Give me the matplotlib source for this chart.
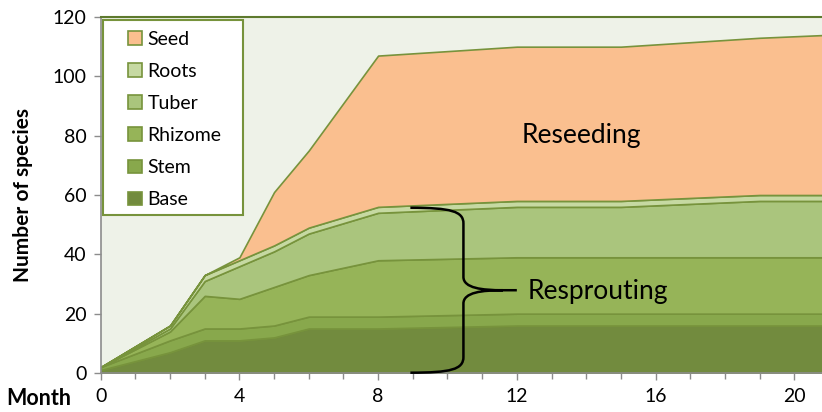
import matplotlib.pyplot as plt
import numpy as np
from matplotlib.path import Path
from matplotlib.patches import PathPatch, Patch, Rectangle
from matplotlib.ticker import MultipleLocator

plt.rcParams['font.family'] = ['Lato', 'DejaVu Sans']

# data: number of species per regeneration type (stacked increments)
months = [0, 2, 3, 4, 5, 6, 8, 12, 15, 19, 21]
base = [1, 7, 11, 11, 12, 15, 15, 16, 16, 16, 16]
stem = [1, 4, 4, 4, 4, 4, 4, 4, 4, 4, 4]
rhizome = [0, 3, 11, 10, 13, 14, 19, 19, 19, 19, 19]
tuber = [0, 1, 5, 11, 12, 14, 16, 17, 17, 19, 19]
roots = [0, 1, 2, 2, 2, 2, 2, 2, 2, 2, 2]
seed = [0, 0, 0, 1, 18, 26, 51, 52, 52, 53, 54]

labels = ['Base', 'Stem', 'Rhizome', 'Tuber', 'Roots', 'Seed']
colors = ['#728B3E', '#88A84C', '#96B458', '#AAC57D', '#C6D9A2', '#FABF8F']
edge = '#77933C'
fs = 14

fig = plt.figure(figsize=(8.22, 4.12), dpi=100)
ax = fig.add_axes([0.1225, 0.0947, 0.8775, 0.864])
ax.set_facecolor('#EEF2E8')

ax.stackplot(months, base, stem, rhizome, tuber, roots, seed,
             colors=colors, edgecolor=edge, linewidth=1.2)

ax.set_xlim(0, 20.8)
ax.set_ylim(0, 120)
ax.xaxis.set_major_locator(MultipleLocator(4))
ax.xaxis.set_minor_locator(MultipleLocator(1))
ax.yaxis.set_major_locator(MultipleLocator(20))

for s in ['left', 'bottom']:
    ax.spines[s].set_color('#8C8C8C')
    ax.spines[s].set_linewidth(1.2)
ax.spines['top'].set_color('#5E7A2E')
ax.spines['top'].set_linewidth(1.5)
ax.spines['right'].set_visible(False)

ax.tick_params(axis='both', which='both', direction='out', color='#8C8C8C',
               labelsize=fs, width=1)
ax.tick_params(axis='x', which='major', length=5, pad=6)
ax.tick_params(axis='x', which='minor', length=4)
ax.tick_params(axis='y', which='major', length=5, pad=5)

ax.set_ylabel('Number of species', fontsize=15, fontweight='bold', labelpad=14)
fig.text(0.008, 0.033, 'Month', fontsize=15.5, fontweight='bold', va='center')

# legend box drawn separately, entries top to bottom: Seed ... Base
ax.add_patch(Rectangle((0.003, 0.443), 0.194, 0.548, transform=ax.transAxes,
                       facecolor='white', edgecolor=edge, linewidth=1.5, zorder=4))
handles = [Patch(facecolor=c, edgecolor=edge, linewidth=1.2) for c in colors][::-1]
leg = ax.legend(handles, labels[::-1], loc='upper left',
                bbox_to_anchor=(0.0378, 0.962), fontsize=fs, frameon=False,
                handlelength=0.7, handleheight=0.7, handletextpad=0.3,
                labelspacing=0.78, borderpad=0.0, borderaxespad=0.0)
leg.set_zorder(6)

ax.text(13.86, 80, 'Reseeding', fontsize=19, ha='center', va='center')
ax.text(12.3, 27.4, 'Resprouting', fontsize=19, ha='left', va='center')

# curly brace
verts = [(8.93, 55.7), (10.1, 55.7), (10.46, 54.5), (10.46, 50.4),
         (10.46, 32.4),
         (10.46, 28.6), (11.0, 27.9), (11.6, 27.9),
         (12.0, 27.9),
         (11.6, 27.9),
         (11.0, 27.9), (10.46, 27.2), (10.46, 23.4),
         (10.46, 5.4),
         (10.46, 1.2), (10.1, 0.1), (8.93, 0.1)]
codes = [Path.MOVETO, Path.CURVE4, Path.CURVE4, Path.CURVE4,
         Path.LINETO,
         Path.CURVE4, Path.CURVE4, Path.CURVE4,
         Path.LINETO,
         Path.MOVETO,
         Path.CURVE4, Path.CURVE4, Path.CURVE4,
         Path.LINETO,
         Path.CURVE4, Path.CURVE4, Path.CURVE4]
ax.add_patch(PathPatch(Path(verts, codes), facecolor='none', edgecolor='black',
                       linewidth=1.8, clip_on=False, zorder=5))

fig.savefig('out.png', dpi=100)
